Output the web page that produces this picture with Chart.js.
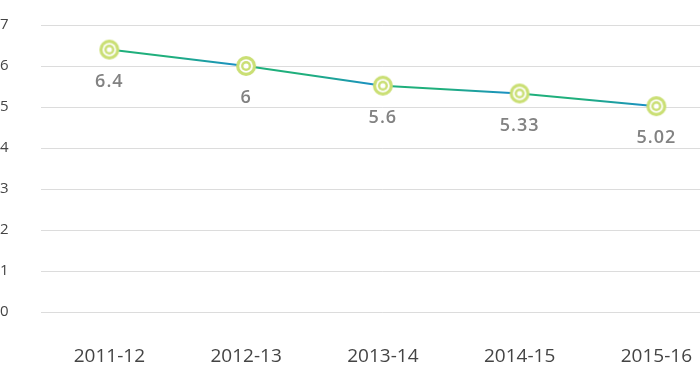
<!DOCTYPE html>
<html>
<head>
<meta charset="utf-8">
<script src="https://cdn.jsdelivr.net/npm/chart.js@4/dist/chart.umd.min.js"></script>
<style>
html,body{margin:0;padding:0;background:#fff;overflow:hidden;width:700px;height:382px;}
#wrap{position:absolute;left:0;top:0;width:725px;height:382px;}
</style>
</head>
<body>
<div id="wrap"><canvas id="c" width="725" height="382"></canvas></div>
<script>
const categories = ["2011-12", "2012-13", "2013-14", "2014-15", "2015-16"];
const values = [6.4, 6, 5.52, 5.33, 5.02];
const valueLabels = ["6.4", "6", "5.6", "5.33", "5.02"];
const yTicks = [0, 1, 2, 3, 4, 5, 6, 7];

const GREEN = "#1faf7c";
const BLUE = "#1a8bcf";
const MARK = "#cadf74";

// marker image
const mk = document.createElement("canvas");
mk.width = 22; mk.height = 22;
(function(){
  const g = mk.getContext("2d");
  const c = 11;
  function disc(r, col){ g.beginPath(); g.arc(c, c, r, 0, Math.PI*2); g.fillStyle = col; g.fill(); }
  disc(10, MARK);
  disc(6.8, "#ffffff");
  disc(5, MARK);
  disc(2.6, "#ffffff");
})();

const cv = document.getElementById("c");
const c2d = cv.getContext("2d");

const labelPlugin = {
  id: "valueLabels",
  afterDatasetsDraw(chart) {
    const meta = chart.getDatasetMeta(0);
    const ctx = chart.ctx;
    ctx.save();
    ctx.font = "600 18px 'Open Sans'";
    ctx.fillStyle = "#828282";
    ctx.textAlign = "center";
    ctx.textBaseline = "middle";
    try { ctx.letterSpacing = "1px"; } catch(e) {}
    meta.data.forEach((pt, i) => {
      ctx.fillText(valueLabels[i], pt.x, pt.y + 32);
    });
    ctx.restore();
  }
};

new Chart(cv, {
  type: "line",
  data: {
    labels: categories,
    datasets: [{
      data: values,
      borderWidth: 2,
      borderColor: GREEN,
      fill: false,
      tension: 0,
      pointStyle: mk,
      pointRadius: 10,
      segment: {
        borderColor: (sc) => {
          const gr = c2d.createLinearGradient(sc.p0.x, 0, sc.p1.x, 0);
          gr.addColorStop(0, GREEN);
          gr.addColorStop(0.45, GREEN);
          gr.addColorStop(1, BLUE);
          return gr;
        }
      }
    }]
  },
  options: {
    responsive: false,
    animation: false,
    devicePixelRatio: 1,
    layout: { autoPadding: false, padding: { top: 25, right: 0, bottom: 0, left: 0 } },
    plugins: { legend: { display: false }, tooltip: { enabled: false } },
    scales: {
      x: {
        offset: true,
        grid: { display: false, drawTicks: false },
        border: { display: false },
        ticks: { color: "#444", font: { family: "'Open Sans'", size: 19 }, padding: 33, maxRotation: 0 },
        afterFit: (s) => { s.height = 70; }
      },
      y: {
        min: 0, max: 7,
        afterBuildTicks: (s) => { s.ticks = yTicks.map(v => ({ value: v })); },
        grid: { color: "#dcdcdc", lineWidth: 1, drawTicks: false },
        border: { display: false },
        ticks: { color: "#444", font: { family: "'Open Sans'", size: 15 }, padding: 0, crossAlign: "far" },
        afterFit: (s) => { s.width = 41; }
      }
    }
  },
  plugins: [labelPlugin]
});
</script>
</body>
</html>
